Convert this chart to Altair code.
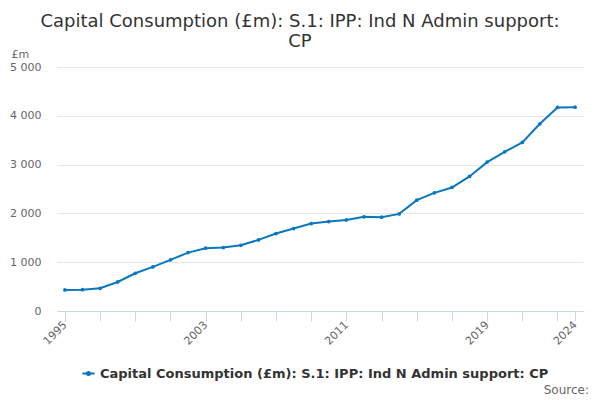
import altair as alt
import pandas as pd

years = list(range(1995, 2025))
values = [431, 438, 465, 595, 773, 903, 1047, 1197, 1286, 1300,
          1347, 1457, 1587, 1690, 1792, 1833, 1867, 1929, 1922, 1990,
          2271, 2421, 2531, 2757, 3051, 3263, 3454, 3837, 4172, 4176]
series_name = "Capital Consumption (£m): S.1: IPP: Ind N Admin support: CP"
title_lines = ["Capital Consumption (£m): S.1: IPP: Ind N Admin support:", "CP"]
x_tick_values = list(range(1995, 2024, 2)) + [2024]
x_label_values = [1995, 2003, 2011, 2019, 2024]

df = pd.DataFrame({"year": years, "value": values, "series": series_name})

FONT = "DejaVu Sans"
BLUE = "#0a77c1"

label_expr = " || ".join(f"datum.value == {v}" for v in x_label_values)

line = alt.Chart(df).mark_line(
    point=alt.OverlayMarkDef(filled=True, size=14, color=BLUE),
    strokeWidth=2,
).encode(
    x=alt.X("year:Q",
            scale=alt.Scale(domain=[1994.55, 2024.45], nice=False, zero=False),
            axis=alt.Axis(values=x_tick_values, title=None, grid=False,
                          labelExpr=f"({label_expr}) ? format(datum.value, 'd') : ''",
                          labelAngle=-45, labelAlign="right", labelBaseline="middle",
                          labelFontSize=11, labelColor="#666666", labelFont=FONT,
                          domainColor="#ccd6eb", tickColor="#ccd6eb", tickSize=10,
                          labelPadding=2, labelOverlap=False, labelFlush=False)),
    y=alt.Y("value:Q",
            scale=alt.Scale(domain=[0, 5000], nice=False),
            axis=alt.Axis(values=[0, 1000, 2000, 3000, 4000, 5000],
                          labelExpr="replace(format(datum.value, ','), ',', ' ')",
                          title="£m", titleAngle=0, titleX=-46, titleY=-10,
                          titleAlign="left", titleBaseline="alphabetic",
                          titleFontSize=11, titleFontWeight="normal", titleColor="#666666",
                          titleFont=FONT,
                          labelFontSize=11, labelColor="#666666", labelFont=FONT,
                          labelPadding=16, ticks=False, domain=False,
                          gridColor="#e6e6e6")),
    color=alt.Color("series:N",
                    scale=alt.Scale(range=[BLUE]),
                    legend=alt.Legend(title=None, orient="none", legendX=24, legendY=299,
                                      symbolType="M-1,0H1M-0.25,0A0.25,0.25 0 1,0 0.25,0A0.25,0.25 0 1,0 -0.25,0Z",
                                      symbolStrokeWidth=2, symbolFillColor=BLUE,
                                      symbolSize=150,
                                      labelFontSize=13, labelFontWeight="bold",
                                      labelColor="#333333", labelFont=FONT,
                                      labelLimit=600)),
)

source = alt.Chart(pd.DataFrame({"t": ["Source:"]})).mark_text(
    align="right", baseline="alphabetic", fontSize=12, color="#666666", font=FONT
).encode(text="t:N", x=alt.value(532), y=alt.value(327))

chart = alt.layer(line, source).properties(
    width=526, height=244,
    autosize=alt.AutoSizeParams(type="none"),
    padding={"left": 49, "top": 59, "right": 9, "bottom": 86},
    title=alt.Title(text=title_lines, fontSize=18, font=FONT, fontWeight="normal",
                    color="#333333", anchor="middle", frame="group", dx=-20, dy=9,
                    offset=6),
).configure_view(stroke=None)

chart.save("out.html", embed_options={"renderer": "svg", "actions": False})
